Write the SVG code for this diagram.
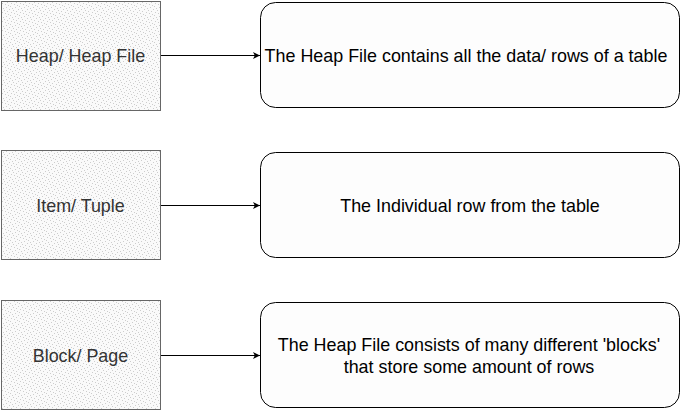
<svg xmlns="http://www.w3.org/2000/svg" width="681" height="411" viewBox="0 0 681 411">
<defs>
<pattern id="dots" x="0" y="0" width="9" height="9" patternUnits="userSpaceOnUse">
<rect width="9" height="9" fill="#fafafa"/>
<rect x="0" y="0" width="1" height="1" fill="#cdcdcd"/>
<rect x="4" y="1" width="1" height="1" fill="#cdcdcd"/>
<rect x="7" y="2" width="1" height="1" fill="#cdcdcd"/>
<rect x="2" y="3" width="1" height="1" fill="#cdcdcd"/>
<rect x="5" y="4" width="1" height="1" fill="#cdcdcd"/>
<rect x="8" y="5" width="1" height="1" fill="#cdcdcd"/>
<rect x="1" y="6" width="1" height="1" fill="#cdcdcd"/>
<rect x="6" y="7" width="1" height="1" fill="#cdcdcd"/>
<rect x="3" y="8" width="1" height="1" fill="#cdcdcd"/>
</pattern>
<marker id="arr" markerWidth="8" markerHeight="8" refX="7" refY="4" orient="auto" markerUnits="userSpaceOnUse">
<path d="M0,0.5 L7,4 L0,7.5 L1.8,4 Z" fill="#000"/>
</marker>
</defs>
<style>
.term{fill:url(#dots);stroke:#666;stroke-width:1}
.desc{fill:#fdfdfd;stroke:#000;stroke-width:1}
.lt{font-family:"Liberation Sans",Arial,sans-serif;font-size:17.9px;fill:#333;text-anchor:middle}
.rt{font-family:"Liberation Sans",Arial,sans-serif;font-size:17.9px;fill:#000;text-anchor:middle}
.edge{stroke:#000;stroke-width:1;fill:none;marker-end:url(#arr)}
</style>
<g id="heap">
<rect class="term" x="1.5" y="1.5" width="159" height="109"/>
<text class="lt" x="80.5" y="62">Heap/ Heap File</text>
</g>
<g id="heap-desc">
<rect class="desc" x="260.5" y="2.5" width="419" height="105" rx="15" ry="15"/>
<text class="rt" x="466" y="62">The Heap File contains all the data/ rows of a table</text>
</g>
<g id="item">
<rect class="term" x="1.5" y="150.5" width="159" height="109"/>
<text class="lt" x="80.5" y="212">Item/ Tuple</text>
</g>
<g id="item-desc">
<rect class="desc" x="260.5" y="152.5" width="419" height="105" rx="15" ry="15"/>
<text class="rt" x="470" y="212">The Individual row from the table</text>
</g>
<g id="block">
<rect class="term" x="1.5" y="300.5" width="159" height="109"/>
<text class="lt" x="80.5" y="362">Block/ Page</text>
</g>
<g id="block-desc">
<rect class="desc" x="260.5" y="302.5" width="419" height="105" rx="15" ry="15"/>
<text class="rt" x="469" y="351">The Heap File consists of many different 'blocks'</text>
<text class="rt" x="469" y="373">that store some amount of rows</text>
</g>
<g id="connectors">
<line class="edge" x1="161" y1="55.5" x2="260" y2="55.5"/>
<line class="edge" x1="161" y1="205.5" x2="260" y2="205.5"/>
<line class="edge" x1="161" y1="355.5" x2="260" y2="355.5"/>
</g>
</svg>
